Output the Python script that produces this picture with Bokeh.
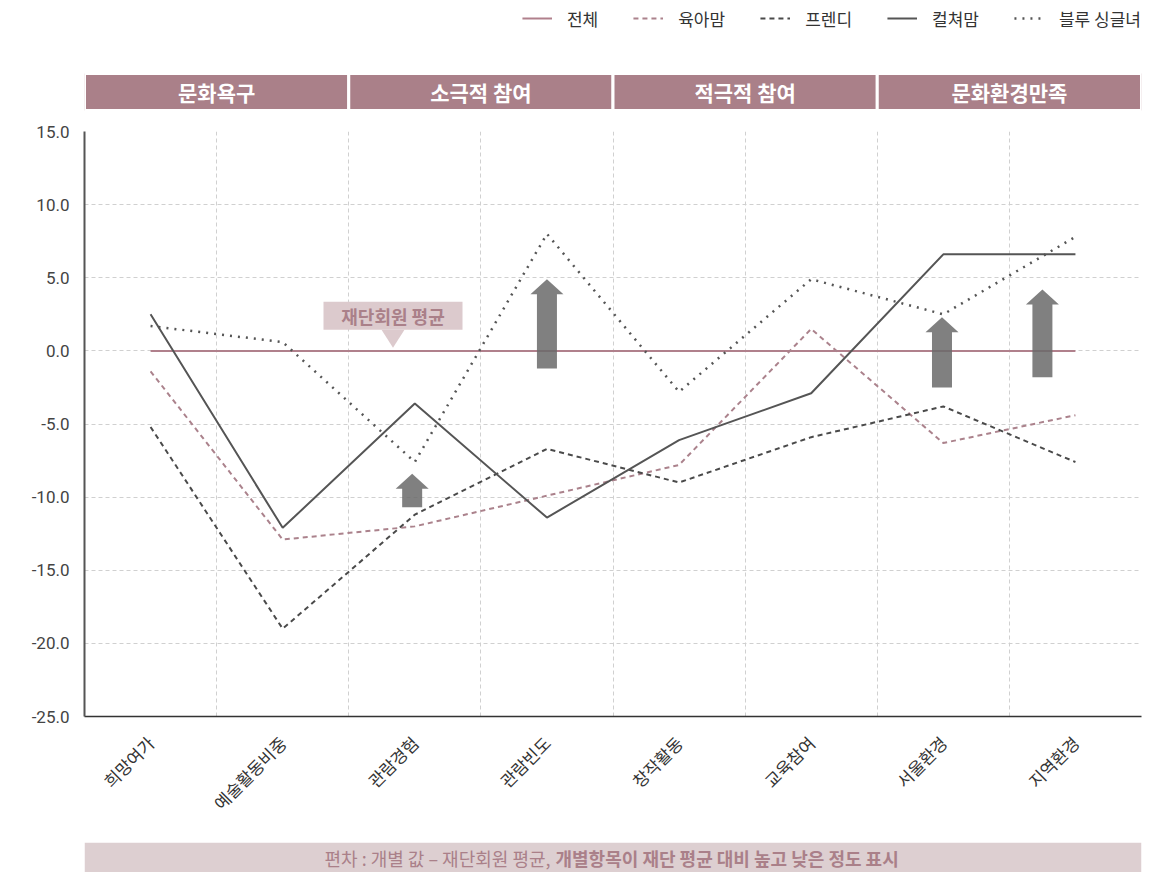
import math
from bokeh.plotting import figure
from bokeh.models import (FixedTicker, PrintfTickFormatter, Range1d, Legend, LegendItem,
                          ColumnDataSource)
from bokeh.layouts import column
from bokeh.core.properties import value
from bokeh.embed import file_html
from bokeh.resources import INLINE

# ---------------- data ----------------
categories = ["희망여가", "예술활동비중", "관람경험", "관람빈도", "창작활동", "교육참여", "서울환경", "지역환경"]
series_names = ["전체", "육아맘", "프렌디", "컬쳐맘", "블루 싱글녀"]
total = [0, 0, 0, 0, 0, 0, 0, 0]
yuama = [-1.4, -12.9, -12.0, -9.9, -7.8, 1.5, -6.3, -4.4]
frendy = [-5.2, -19.0, -11.2, -6.7, -9.0, -5.9, -3.8, -7.6]
culture = [2.5, -12.1, -3.6, -11.4, -6.1, -2.9, 6.6, 6.6]
blue_single = [1.7, 0.6, -7.6, 8.0, -2.8, 4.9, 2.5, 7.8]

groups = ["문화욕구", "소극적 참여", "적극적 참여", "문화환경만족"]
y_ticks = [-25, -20, -15, -10, -5, 0, 5, 10, 15]

# arrows: category index, start value, end value
arrow_cat = [2, 3, 6, 7]
arrow_from = [-10.7, -1.2, -2.5, -1.8]
arrow_to = [-8.4, 4.9, 2.3, 4.2]
arrow_shift = [-0.02, 0.0, -0.01, -0.25]

avg_label = "재단회원 평균"
foot_normal = "편차 : 개별 값 – 재단회원 평균,"
foot_bold = "개별항목이 재단 평균 대비 높고 낮은 정도 표시"

# ---------------- style ----------------
KR = "Noto Sans CJK KR"
MAUVE = "#aa8089"
W = 1161
BL, BR = 84, 20
FRAME_W = W - BL - BR          # 1057
FRAME_H = 585
n = len(categories)
px_x = FRAME_W / n
px_y = FRAME_H / 40.0
X0 = 85.0      # page x of frame left (for annotation placement)
Y0 = 131.7     # page y of value 15

styles = {
    "전체": dict(color="#b0808c", line_width=2, line_dash="solid"),
    "육아맘": dict(color="#ab828c", line_width=2, line_dash="5 4"),
    "프렌디": dict(color="#4a4a4a", line_width=2, line_dash="5 4"),
    "컬쳐맘": dict(color="#555555", line_width=2, line_dash="solid"),
    "블루 싱글녀": dict(color="#555555", line_width=2.5, line_dash="2 6"),
}
series_vals = [total, yuama, frendy, culture, blue_single]

# ---------------- top figure: legend + group header ----------------
TOP_H = 115
top = figure(width=W, height=TOP_H, x_range=Range1d(0, n), y_range=Range1d(0, TOP_H),
             x_axis_type=None, y_axis_type=None, output_backend="svg",
             toolbar_location=None, min_border=0, min_border_left=BL, min_border_right=BR)
top.outline_line_color = None
top.xgrid.visible = False
top.ygrid.visible = False

items = []
for name in series_names:
    st = styles[name]
    r = top.line(x=[-100, -99], y=[-100, -100], line_color=st["color"],
                 line_width=st["line_width"], line_dash=st["line_dash"])
    items.append(LegendItem(label=name, renderers=[r]))
leg = Legend(items=items, orientation="horizontal", location="top_right",
             glyph_width=30, glyph_height=36, label_height=36, label_standoff=15, spacing=35,
             padding=0, margin=0, border_line_color=None, background_fill_alpha=0,
             label_text_font_size="17px", label_text_font=KR, label_text_color="#333333")
top.add_layout(leg)

gl = [2 * i for i in range(len(groups))]
top.quad(left=gl, right=[g + 2 for g in gl], bottom=5, top=42,
         fill_color=MAUVE, line_color="white", line_width=3)
top.text(x=[g + 1 for g in gl], y=23.5, text=groups, text_color="white",
         text_font=value(KR), text_font_style="bold", text_font_size="21px",
         text_align="center", text_baseline="middle")

# ---------------- main figure ----------------
MB_TOP, MB_BOT = 16, 126
p = figure(width=W, height=MB_TOP + FRAME_H + MB_BOT, x_range=Range1d(0, n),
           y_range=Range1d(-25, 15), output_backend="svg", toolbar_location=None,
           min_border_left=BL, min_border_right=BR, min_border_top=MB_TOP,
           min_border_bottom=MB_BOT)
p.outline_line_color = None

xs = [i + 0.5 for i in range(n)]

# grids
p.xgrid.ticker = FixedTicker(ticks=[i + 1 for i in range(n)])
p.ygrid.ticker = FixedTicker(ticks=y_ticks[1:])
for g in (p.xgrid, p.ygrid):
    g.grid_line_color = "#d0d0d0"
    g.grid_line_dash = "4 3"
    g.grid_line_width = 1

# axes
p.yaxis.ticker = FixedTicker(ticks=y_ticks)
p.yaxis.formatter = PrintfTickFormatter(format="%.1f")
p.yaxis.axis_line_color = "#555555"
p.yaxis.axis_line_width = 2
p.yaxis.major_tick_line_color = None
p.yaxis.minor_tick_line_color = None
p.yaxis.major_tick_out = 0
p.yaxis.major_label_standoff = 15
p.yaxis.major_label_text_font = "Roboto"
p.yaxis.major_label_text_font_size = "17px"
p.yaxis.major_label_text_color = "#444444"

p.xaxis.ticker = FixedTicker(ticks=xs)
p.xaxis.major_label_overrides = {x: c for x, c in zip(xs, categories)}
p.xaxis.major_label_orientation = math.pi / 4
p.xaxis.axis_line_color = "#333333"
p.xaxis.axis_line_width = 1.5
p.xaxis.major_tick_line_color = None
p.xaxis.minor_tick_line_color = None
p.xaxis.major_tick_out = 0
p.xaxis.major_label_standoff = 23
p.xaxis.major_label_text_font = KR
p.xaxis.major_label_text_font_size = "17px"
p.xaxis.major_label_text_color = "#333333"

# series
for name, vals in zip(series_names, series_vals):
    st = styles[name]
    src = ColumnDataSource(dict(x=xs, y=vals))
    p.line("x", "y", source=src, line_color=st["color"], line_width=st["line_width"],
           line_dash=st["line_dash"])

# callout "재단회원 평균"
bx0, bx1 = (324 - X0) / px_x, (463 - X0) / px_x
by1, by0 = 15 - (302 - Y0) / px_y, 15 - (330 - Y0) / px_y
tip_x = (393.5 - X0) / px_x
tip_y = 15 - (348 - Y0) / px_y
p.quad(left=[bx0], right=[bx1], bottom=[by0], top=[by1], fill_color="#dccacd", line_color=None)
p.patches(xs=[[tip_x - 11.5 / px_x, tip_x + 11.5 / px_x, tip_x]], ys=[[by0, by0, tip_y]],
          fill_color="#dccacd", line_color=None)
p.text(x=[(bx0 + bx1) / 2], y=[(by0 + by1) / 2], text=[avg_label], text_color=MAUVE,
       text_font=value(KR), text_font_style="bold", text_font_size="18px",
       text_align="center", text_baseline="middle")

# arrows
hw_s, hw_h, hl = 10 / px_x, 16.5 / px_x, 15 / px_y
axs, ays = [], []
for c, s, y0, y1 in zip(arrow_cat, arrow_shift, arrow_from, arrow_to):
    cx = c + 0.5 + s
    axs.append([cx - hw_s, cx + hw_s, cx + hw_s, cx + hw_h, cx, cx - hw_h, cx - hw_s])
    ays.append([y0, y0, y1 - hl, y1 - hl, y1, y1 - hl, y1 - hl])
p.patches(xs=axs, ys=ays, fill_color="#6a6a6a", fill_alpha=0.85, line_color=None)

# ---------------- footer ----------------
foot = figure(width=W, height=30, x_range=Range1d(0, n), y_range=Range1d(0, 1),
              x_axis_type=None, y_axis_type=None, output_backend="svg",
              toolbar_location=None, min_border=0, min_border_left=BL, min_border_right=BR)
foot.outline_line_color = None
foot.xgrid.visible = False
foot.ygrid.visible = False
foot.quad(left=[0], right=[n], bottom=[0], top=[1], fill_color="#ddcfd1", line_color=None)
split = (553 - X0) / px_x
foot.text(x=[split - 2 / px_x], y=[0.5], text=[foot_normal], text_color=MAUVE,
          text_font=value(KR), text_font_size="18px", text_align="right",
          text_baseline="middle")
foot.text(x=[split + 3 / px_x], y=[0.5], text=[foot_bold], text_color=MAUVE,
          text_font=value(KR), text_font_style="bold", text_font_size="18px",
          text_align="left", text_baseline="middle")

layout = column(top, p, foot, spacing=0)
open("out.html", "w").write(file_html(layout, INLINE))
